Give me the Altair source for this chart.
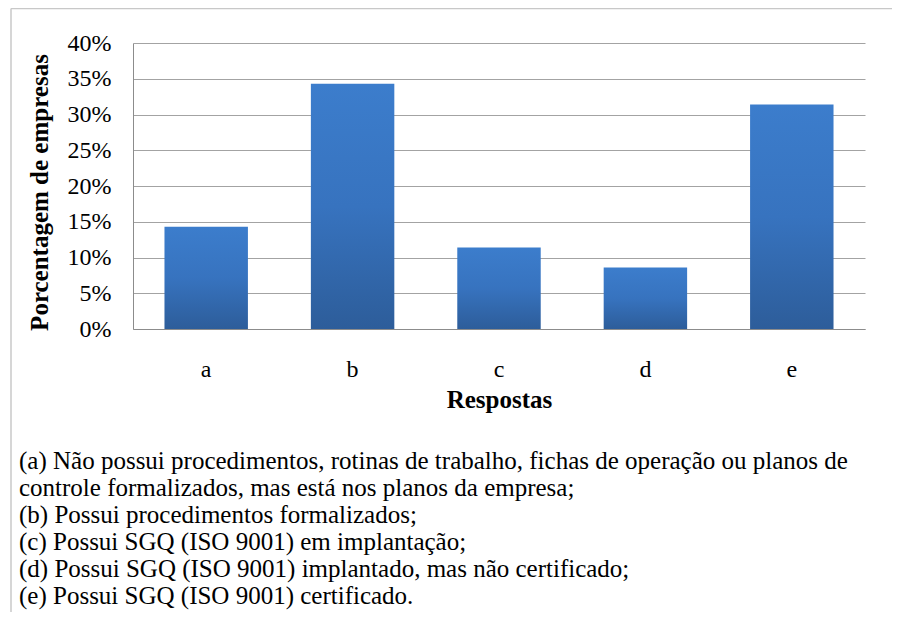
import altair as alt
import pandas as pd

# Data
categories = ["a", "b", "c", "d", "e"]
shares = [0.143, 0.343, 0.114, 0.086, 0.314]
tick_values = [0, 0.05, 0.10, 0.15, 0.20, 0.25, 0.30, 0.35, 0.40]
legend_lines = [
    "(a) Não possui procedimentos, rotinas de trabalho, fichas de operação ou planos de",
    "controle formalizados, mas está nos planos da empresa;",
    "(b) Possui procedimentos formalizados;",
    "(c) Possui SGQ (ISO 9001) em implantação;",
    "(d) Possui SGQ (ISO 9001) implantado, mas não certificado;",
    "(e) Possui SGQ (ISO 9001) certificado.",
]

FONT = "Liberation Serif"
W, H = 732, 286

bars_df = pd.DataFrame({"resp": categories, "pct": shares})
text_df = pd.DataFrame({"i": list(range(len(legend_lines))), "line": legend_lines})
one_df = pd.DataFrame({"z": [0]})

gradient = alt.Gradient(
    gradient="linear",
    stops=[
        alt.GradientStop(offset=0, color="#3c7dcc"),
        alt.GradientStop(offset=0.5, color="#3773bf"),
        alt.GradientStop(offset=1, color="#2d5d9a"),
    ],
    x1=0, x2=0, y1=0, y2=1,
)

bars = alt.Chart(bars_df).mark_bar(color=gradient).encode(
    x=alt.X(
        "resp:N",
        sort=categories,
        scale=alt.Scale(paddingInner=0.43, paddingOuter=0.215),
        axis=alt.Axis(
            title="Respostas",
            labelAngle=0,
            labelFont=FONT,
            labelFontSize=24,
            labelColor="black",
            labelBaseline="alphabetic",
            labelPadding=47,
            ticks=False,
            tickSize=0,
            domain=True,
            domainColor="#8c8c8c",
            titleFont=FONT,
            titleFontSize=25,
            titleFontWeight="bold",
            titleColor="black",
            titleX=W / 2,
            titleY=78,
            titleAlign="center",
            titleBaseline="alphabetic",
        ),
    ),
    y=alt.Y(
        "pct:Q",
        scale=alt.Scale(domain=[0, 0.4]),
        axis=alt.Axis(
            title="Porcentagem de empresas",
            values=tick_values,
            format=".0%",
            labelFont=FONT,
            labelFontSize=24,
            labelColor="black",
            labelPadding=22,
            ticks=False,
            tickSize=0,
            domain=True,
            domainColor="#8c8c8c",
            grid=True,
            gridColor="#a3a3a3",
            gridWidth=1,
            titleFont=FONT,
            titleFontSize=25,
            titleFontWeight="bold",
            titleColor="black",
            titleAngle=270,
            titleX=-94,
            titleY=149,
            titleAlign="center",
            titleBaseline="middle",
        ),
    ),
)

notes = alt.Chart(text_df).mark_text(
    align="left", baseline="alphabetic", font=FONT, fontSize=25, color="black"
).encode(
    x=alt.value(-114),
    y=alt.Y("i:Q", scale=alt.Scale(domain=[0, 5], range=[426, 561]), axis=None),
    text="line:N",
)

frame_top = alt.Chart(one_df).mark_rule(color="#c8c8c8", strokeWidth=1.5).encode(
    x=alt.value(-122), x2=alt.value(W + 30), y=alt.value(-34.5)
)
frame_left = alt.Chart(one_df).mark_rule(color="#c8c8c8", strokeWidth=1.5).encode(
    x=alt.value(-122), y=alt.value(-34.5), y2=alt.value(H + 290)
)

chart = (
    alt.layer(bars, notes, frame_top, frame_left)
    .resolve_scale(y="independent")
    .properties(
        width=W,
        height=H,
        autosize=alt.AutoSizeParams(type="none"),
        padding={"left": 125, "top": 35, "right": 27, "bottom": 283},
    )
    .configure_view(stroke=None)
)

chart.save("out.html", embed_options={"renderer": "svg", "actions": False})
